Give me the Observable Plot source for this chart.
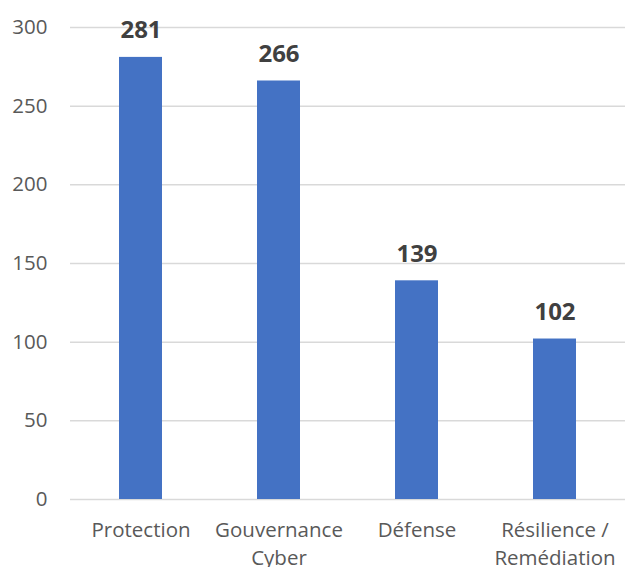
<!DOCTYPE html>
<html>
<head>
<meta charset="utf-8">
<script src="https://cdn.jsdelivr.net/npm/d3@7"></script>
<script src="https://cdn.jsdelivr.net/npm/@observablehq/plot@0.6"></script>
<style>
  html, body { margin: 0; padding: 0; background: #fff; }
</style>
</head>
<body>
<div id="chart"></div>
<script>
const categories = ["Protection", "Gouvernance Cyber", "Défense", "Résilience / Remédiation"];
const values = [281, 266, 139, 102];
const tickLabels = ["Protection", "Gouvernance\nCyber", "Défense", "Résilience /\nRemédiation"];
const yTicks = [0, 50, 100, 150, 200, 250, 300];

const data = categories.map((c, i) => ({category: c, value: values[i]}));
const labelOf = new Map(categories.map((c, i) => [c, tickLabels[i]]));

const chart = Plot.plot({
  width: 625,
  height: 567,
  marginLeft: 70,
  marginRight: 0,
  marginTop: 27,
  marginBottom: 68,
  style: {fontFamily: "Open Sans", fontSize: "20px", color: "#595959", background: "#fff"},
  x: {domain: categories, paddingInner: 0.686, paddingOuter: 0.343, label: null},
  y: {domain: [0, 300], label: null},
  marks: [
    Plot.gridY(yTicks, {stroke: "#d9d9d9", strokeOpacity: 1, strokeWidth: 1.5}),
    Plot.barY(data, {x: "category", y: "value", fill: "#4472C4"}),
    Plot.text(data, {x: "category", y: "value", text: d => String(d.value), dy: -19, lineAnchor: "bottom", fontWeight: "bold", fontSize: 24, fill: "#404040"}),
    Plot.axisY({ticks: yTicks, tickSize: 0, tickPadding: 23, fill: "#595959", fontSize: 20.5}),
    Plot.axisX({tickSize: 0, tickPadding: 18, tickFormat: d => labelOf.get(d), lineHeight: 1.366, fill: "#595959", fontSize: 20.5})
  ]
});
document.getElementById("chart").appendChild(chart);
</script>
</body>
</html>
